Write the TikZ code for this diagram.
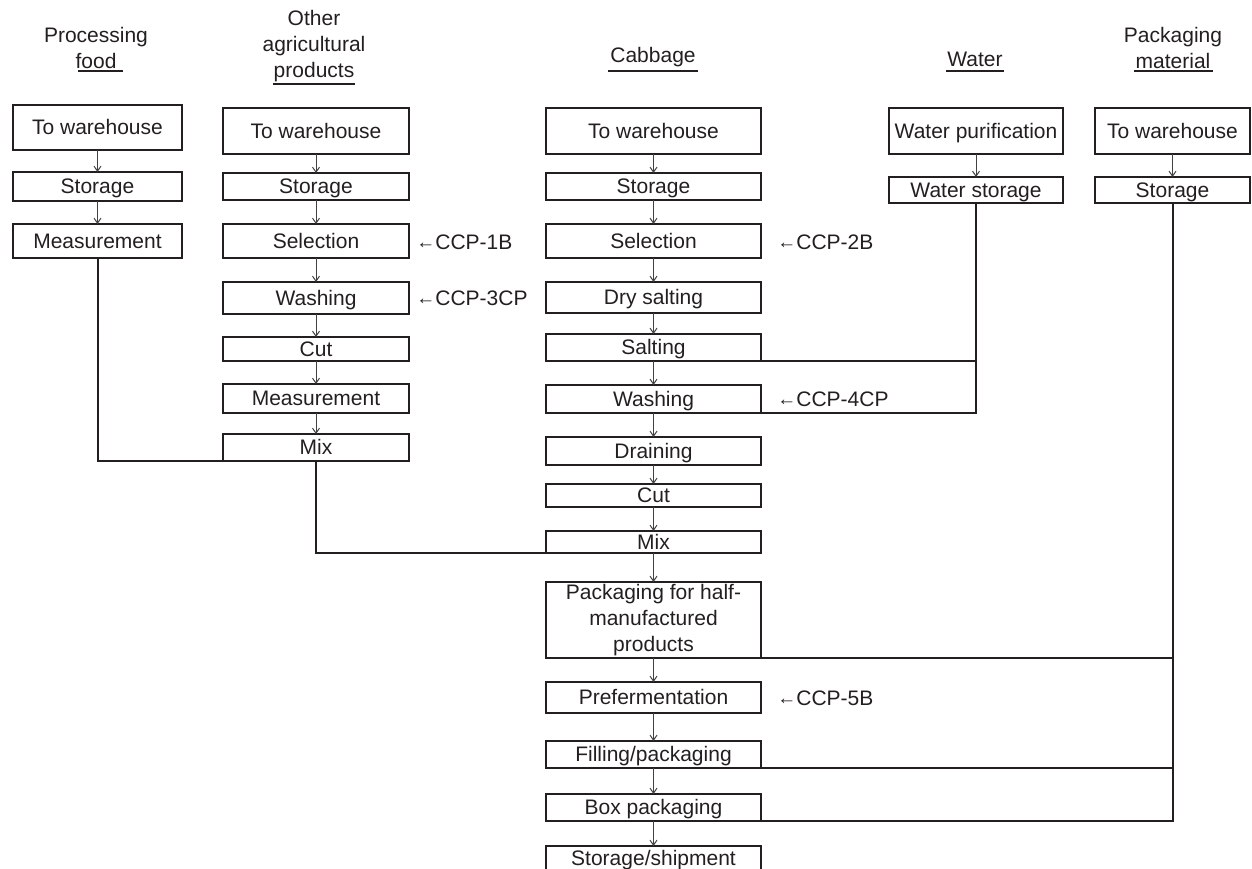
\documentclass[tikz,border=0pt]{standalone}
\usepackage{fontspec}
\setmainfont{Liberation Sans}
\usetikzlibrary{arrows.meta}
\definecolor{ink}{HTML}{231F20}
\newcommand\bx[6]{\node[box, minimum width={(#4-#2)*0.5pt}, minimum height={(#5-#3)*0.5pt}] (#1) at ({(#2+#4)/2},{(#3+#5)/2}) {#6};}
\newcommand\ccp[1]{{\raisebox{0.6pt}{\fontsize{9.5}{10}\selectfont ←}}#1}
\begin{document}
\begin{tikzpicture}[x=0.5pt,y=-0.5pt,
  box/.style={draw=ink, line width=1pt, inner sep=0pt, outer sep=0pt, font=\fontsize{10.5}{13}\selectfont, text=ink, text height=8.6pt, text depth=1.6pt},
  mbox/.style={draw=ink, line width=1pt, inner sep=0pt, outer sep=0pt, font=\fontsize{10.5}{13}\selectfont, text=ink, align=center},
  head/.style={font=\fontsize{10.5}{13}\selectfont, text=ink, align=center, inner sep=0pt},
  lab/.style={font=\fontsize{10.5}{13}\selectfont, text=ink, anchor=west, inner sep=0pt},
  arr/.style={draw=ink!85, line width=0.5pt, -{Straight Barb[length=2.5pt,width=3.5pt]}},
  conn/.style={draw=ink, line width=1pt},
  uline/.style={draw=ink, line width=0.75pt}]
\useasboundingbox (0,0) rectangle (1252,868);

% headers
\node[head] (hd1) at (96,48) {Processing\\food};
\node[head] (hd2) at (314,46) {Other\\agricultural\\products};
\node[head] (hd3) at (653,57) {Cabbage};
\node[head] (hd4) at (975,59) {Water};
\node[head] (hd5) at (1173,48) {Packaging\\material};
\draw[uline] (78,71) -- (123,71);
\draw[uline] (273,84) -- (355,84);
\draw[uline] (608,71) -- (698,71);
\draw[uline] (946,71) -- (1004,71);
\draw[uline] (1134,71) -- (1213,71);

% column 1
\bx{tw1}{13}{105}{182}{150}{To warehouse}
\bx{st1}{13}{172}{182}{201}{Storage}
\bx{me1}{13}{224}{182}{258}{Measurement}

% column 2
\bx{tw2}{223}{108}{409}{154}{To warehouse}
\bx{st2}{223}{173}{409}{200}{Storage}
\bx{se2}{223}{224}{409}{258}{Selection}
\bx{wa2}{223}{282}{409}{314}{Washing}
\bx{cu2}{223}{337}{409}{361}{Cut}
\bx{me2}{223}{384}{409}{413}{Measurement}
\bx{mi2}{223}{434}{409}{461}{Mix}

% column 3
\bx{tw3}{546}{108}{761}{154}{To warehouse}
\bx{st3}{546}{173}{761}{200}{Storage}
\bx{se3}{546}{224}{761}{258}{Selection}
\bx{ds3}{546}{282}{761}{313}{Dry salting}
\bx{sa3}{546}{334}{761}{361}{Salting}
\bx{wa3}{546}{385}{761}{413}{Washing}
\bx{dr3}{546}{437}{761}{465}{Draining}
\bx{cu3}{546}{484}{761}{507}{Cut}
\bx{mi3}{546}{531}{761}{553}{Mix}
\node[mbox, minimum width={(761-546)*0.5pt}, minimum height={(658-582)*0.5pt}] (pk3) at ({(546+761)/2},{(582+658)/2}) {Packaging for half-\\manufactured\\products};
\bx{pf3}{546}{682}{761}{713}{Prefermentation}
\bx{fi3}{546}{741}{761}{768}{Filling/packaging}
\bx{bo3}{546}{794}{761}{821}{Box packaging}
\bx{ss3}{546}{846}{761}{870}{Storage/shipment}

% column 4
\bx{wp4}{889}{108}{1063}{154}{Water purification}
\bx{ws4}{889}{177}{1063}{203}{Water storage}

% column 5
\bx{tw5}{1095}{108}{1250}{154}{To warehouse}
\bx{st5}{1095}{177}{1250}{203}{Storage}

% CCP labels
\node[lab] (c1) at (416,242) {\ccp{CCP-1B}};
\node[lab] (c3) at (416,298) {\ccp{CCP-3CP}};
\node[lab] (c2) at (777,242) {\ccp{CCP-2B}};
\node[lab] (c4) at (777,399) {\ccp{CCP-4CP}};
\node[lab] (c5) at (777,698) {\ccp{CCP-5B}};

% arrows
\draw[arr] (tw1) -- (st1);
\draw[arr] (st1) -- (me1);
\draw[arr] (tw2) -- (st2);
\draw[arr] (st2) -- (se2);
\draw[arr] (se2) -- (wa2);
\draw[arr] (wa2) -- (cu2);
\draw[arr] (cu2) -- (me2);
\draw[arr] (me2) -- (mi2);
\draw[arr] (tw3) -- (st3);
\draw[arr] (st3) -- (se3);
\draw[arr] (se3) -- (ds3);
\draw[arr] (ds3) -- (sa3);
\draw[arr] (sa3) -- (wa3);
\draw[arr] (wa3) -- (dr3);
\draw[arr] (dr3) -- (cu3);
\draw[arr] (cu3) -- (mi3);
\draw[arr] (mi3) -- (pk3);
\draw[arr] (pk3) -- (pf3);
\draw[arr] (pf3) -- (fi3);
\draw[arr] (fi3) -- (bo3);
\draw[arr] (bo3) -- (ss3);
\draw[arr] (wp4) -- (ws4);
\draw[arr] (tw5) -- (st5);

% connectors
\draw[conn] (me1.south) |- (mi2.south west);
\draw[conn] (mi2.south) |- (mi3.south west);
\draw[conn] (ws4.south) |- (wa3.south east);
\draw[conn] (sa3.south east) -- (sa3.south east -| ws4.south);
\draw[conn] (st5.south) |- (bo3.south east);
\draw[conn] (pk3.south east) -- (pk3.south east -| st5.south);
\draw[conn] (fi3.south east) -- (fi3.south east -| st5.south);
\end{tikzpicture}
\end{document}
